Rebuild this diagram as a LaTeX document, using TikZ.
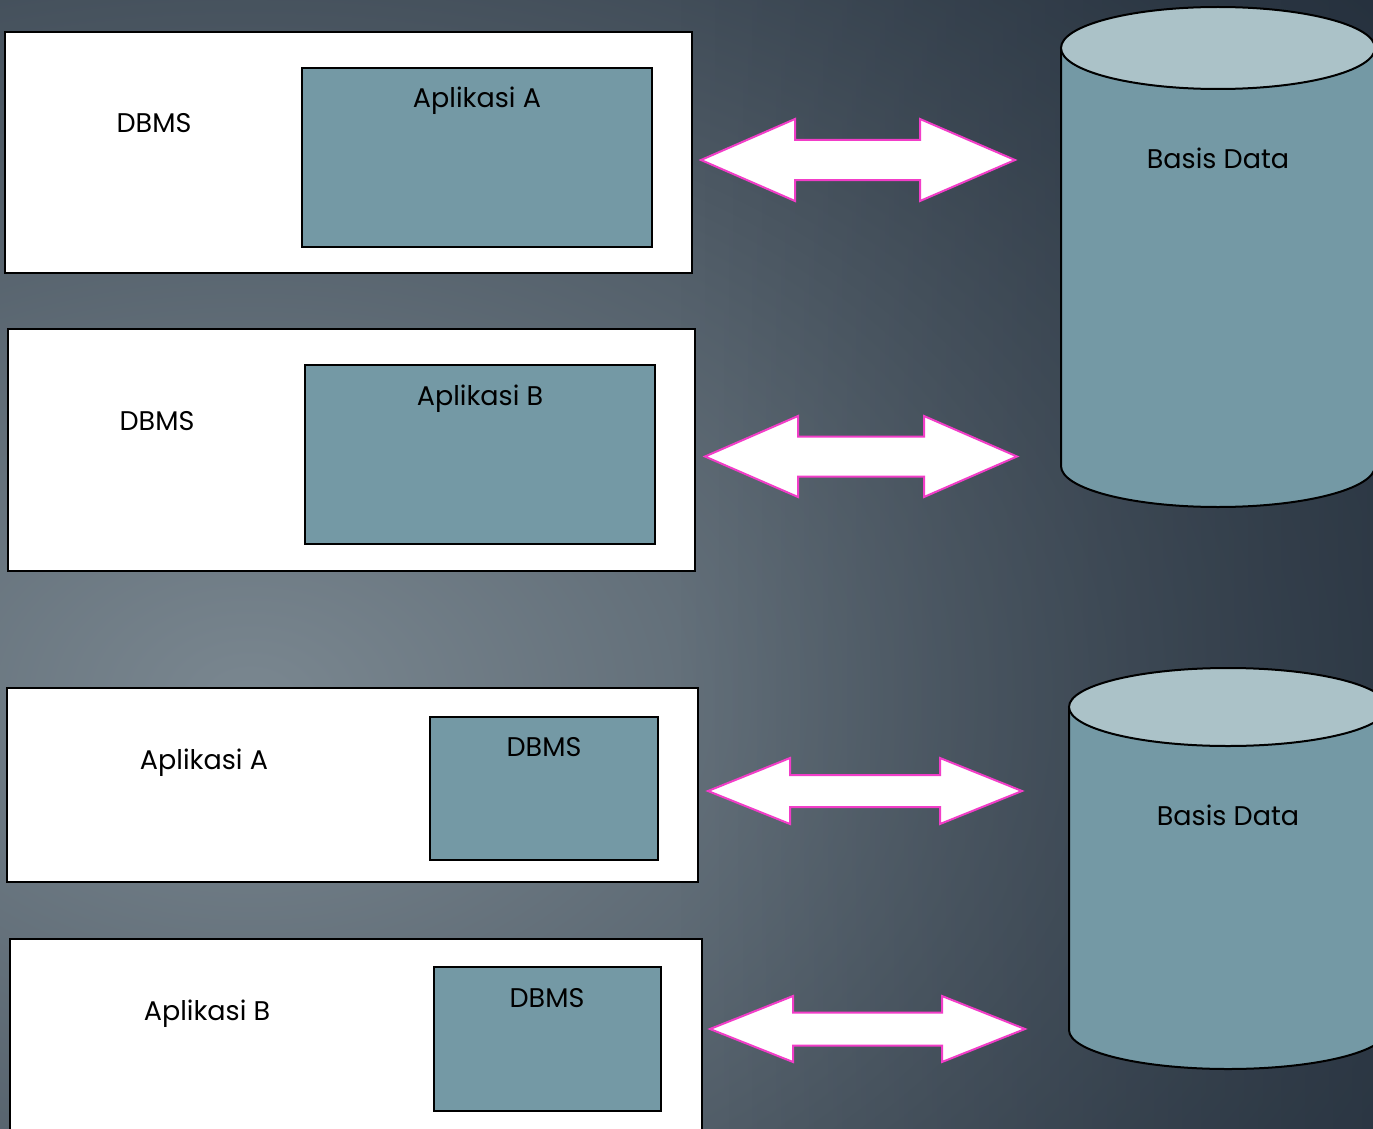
\documentclass[tikz,border=0pt]{standalone}
\usepackage{fontspec}
\usetikzlibrary{fadings}
\setmainfont{Poppins}
\definecolor{bgin}{HTML}{7A8790}
\definecolor{bgout}{HTML}{222D3A}
\definecolor{panel}{HTML}{7499A5}
\definecolor{captop}{HTML}{ABC2C8}
\definecolor{rim}{HTML}{F23DC8}
\tikzfading[name=darkenright, left color=transparent!100, right color=transparent!40]
\tikzset{
  outerbox/.style={draw=black,fill=white,line width=2.3pt},
  innerbox/.style={draw=black,fill=panel,line width=2pt},
  dbbody/.style={draw=black,fill=panel,line width=2pt},
  dbtop/.style={draw=black,fill=captop,line width=2pt},
  twoway/.style={draw=rim,fill=white,line width=2pt,line join=miter},
  lbl/.style={font=\fontsize{27}{30}\selectfont,anchor=base,inner sep=0pt}
}
% double-headed block arrow: left tip, left head base, right head base, right tip, centre y, half shaft, half head
\newcommand\twowayarrow[7]{%
  \path[twoway] (#1,#5) -- (#2,#5-#7) -- (#2,#5-#6) -- (#3,#5-#6) -- (#3,#5-#7)
    -- (#4,#5) -- (#3,#5+#7) -- (#3,#5+#6) -- (#2,#5+#6) -- (#2,#5+#7) -- cycle;}
\begin{document}
\begin{tikzpicture}[x=1pt,y=-1pt]
\useasboundingbox (0,0) rectangle (1373,1129);
% backdrop
\begin{scope}
  \clip (0,0) rectangle (1373,1129);
  \fill[bgout] (0,0) rectangle (1373,1129);
  \shade[inner color=bgin,outer color=bgout] (250,700) ellipse [x radius=1700,y radius=1200];
  \fill[bgout,path fading=darkenright] (680,-40) rectangle (1400,1170);
\end{scope}

% upper group: DBMS hosting applications
\path[outerbox] (5,32) rectangle (692,273);
\path[innerbox] (302,68) rectangle (652,247);
\node[lbl] (dbmsA) at (154,133) {DBMS};
\node[lbl] (appA) at (477,108) {Aplikasi A};

\path[outerbox] (8,329) rectangle (695,571);
\path[innerbox] (305,365) rectangle (655,544);
\node[lbl] (dbmsB) at (157,430) {DBMS};
\node[lbl] (appB) at (480,405) {Aplikasi B};

% lower group: applications embedding DBMS
\path[outerbox] (7,688) rectangle (698,882);
\path[innerbox] (430,717) rectangle (658,860);
\node[lbl] (appC) at (204,769) {Aplikasi A};
\node[lbl] (dbmsC) at (544,756) {DBMS};

\path[outerbox] (10,939) rectangle (702,1140);
\path[innerbox] (434,967) rectangle (661,1111);
\node[lbl] (appD) at (207,1020) {Aplikasi B};
\node[lbl] (dbmsD) at (547,1007) {DBMS};

% databases
\path[dbbody] (1061,48) -- (1061,466) arc[start angle=180,end angle=0,x radius=157,y radius=41] -- (1375,48) -- cycle;
\path[dbtop] (1218,48) ellipse [x radius=157,y radius=41];
\node[lbl] (dbUp) at (1218,168) {Basis Data};

\path[dbbody] (1069,707) -- (1069,1030) arc[start angle=180,end angle=0,x radius=159,y radius=39] -- (1387,707) -- cycle;
\path[dbtop] (1228,707) ellipse [x radius=159,y radius=39];
\node[lbl] (dbLow) at (1228,825) {Basis Data};

% data exchange arrows
\twowayarrow{701}{795}{920}{1015}{160}{20}{41}
\twowayarrow{705}{798}{924}{1017}{456.5}{20}{40.5}
\twowayarrow{708}{790}{940}{1022}{791}{16}{33}
\twowayarrow{710}{793}{942}{1025}{1029}{16.5}{33}
\end{tikzpicture}
\end{document}
